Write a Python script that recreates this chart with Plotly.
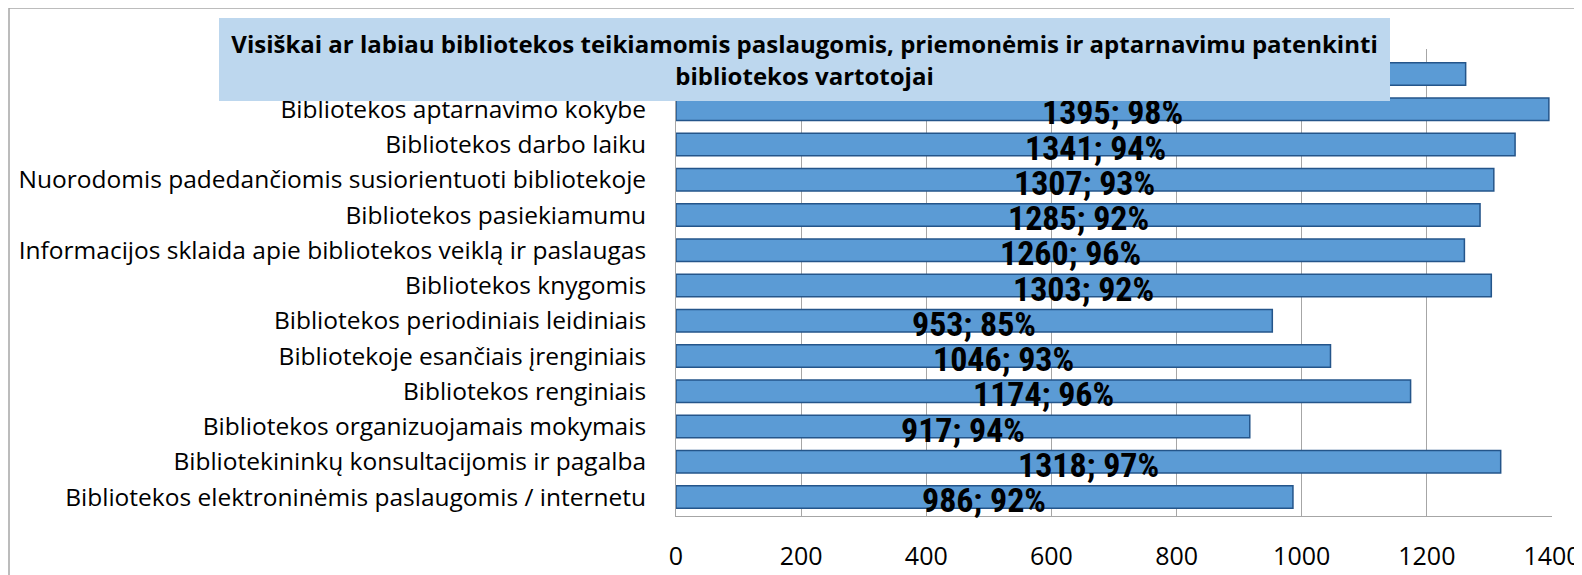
import plotly.graph_objects as go

categories = [
    "Bibliotekos patalpomis",
    "Bibliotekos aptarnavimo kokybe",
    "Bibliotekos darbo laiku",
    "Nuorodomis padedančiomis susiorientuoti bibliotekoje",
    "Bibliotekos pasiekiamumu",
    "Informacijos sklaida apie bibliotekos veiklą ir paslaugas",
    "Bibliotekos knygomis",
    "Bibliotekos periodiniais leidiniais",
    "Bibliotekoje esančiais įrenginiais",
    "Bibliotekos renginiais",
    "Bibliotekos organizuojamais mokymais",
    "Bibliotekininkų konsultacijomis ir pagalba",
    "Bibliotekos elektroninėmis paslaugomis / internetu",
]
counts = [1262, 1395, 1341, 1307, 1285, 1260, 1303, 953, 1046, 1174, 917, 1318, 986]
percents = [95, 98, 94, 93, 92, 96, 92, 85, 93, 96, 94, 97, 92]
x_ticks = [0, 200, 400, 600, 800, 1000, 1200, 1400]
title_text = ("Visiškai ar labiau bibliotekos teikiamomis paslaugomis, priemonėmis ir aptarnavimu patenkinti"
              "<br>bibliotekos vartotojai")

labels = [f"{c}; {p}%" for c, p in zip(counts, percents)]

# page body margin offset (browser default)
OFF = 8
W, H = 1582, 575
# desired plot area in screen pixels
SX0, SX1, SY0, SY1 = 676, 1552, 49, 516
L, T = SX0 - OFF, SY0 - OFF
R, B = W - (SX1 - OFF), H - (SY1 - OFF)
pw, ph = SX1 - SX0, SY1 - SY0

def px_x(v):
    return (v - SX0) / pw

def px_y(v):
    return (SY1 - v) / ph

fig = go.Figure()
fig.add_trace(go.Bar(
    y=categories, x=counts, orientation="h",
    marker=dict(color="#5B9BD5", line=dict(color="#24558A", width=1.5)),
    hoverinfo="x+y",
))
for c, cat, lab in zip(counts, categories, labels):
    fig.add_annotation(
        x=c / 2, y=cat, xref="x", yref="y", text=lab, showarrow=False,
        xanchor="center", yanchor="middle", yshift=-3,
        font=dict(family="Liberation Sans Narrow, Arial Narrow, Roboto Condensed, sans-serif",
                  size=34, color="black", weight="bold"),
    )

font_main = "Open Sans, Calibri, Carlito, sans-serif"

fig.update_layout(
    width=W, height=H,
    margin=dict(l=L, r=R, t=T, b=B),
    paper_bgcolor="white", plot_bgcolor="white",
    showlegend=False, bargap=0.36,
    font=dict(family=font_main, color="black"),
    xaxis=dict(range=[0, 1400], tickvals=x_ticks, showgrid=True, gridcolor="#A6A6A6",
               gridwidth=1, zeroline=False, showline=True, linecolor="#A6A6A6",
               tickfont=dict(size=25, family=font_main), ticks="", ticklabelstandoff=18,
               automargin=False, fixedrange=True),
    yaxis=dict(autorange="reversed", showgrid=False, showline=True, linecolor="#A6A6A6",
               tickfont=dict(size=24.5, family=font_main), ticks="", ticklabelstandoff=24,
               automargin=False, fixedrange=True),
    shapes=[
        dict(type="rect", xref="paper", yref="paper",
             x0=px_x(9), x1=px_x(1600), y0=px_y(600), y1=px_y(8),
             line=dict(color="#A6A6A6", width=1.5), fillcolor="rgba(0,0,0,0)", layer="below"),
        dict(type="rect", xref="paper", yref="paper",
             x0=px_x(219), x1=px_x(1390), y0=px_y(101), y1=px_y(18),
             line=dict(width=0), fillcolor="#BDD7EE", layer="above"),
    ],
)
# title box drawn last so it covers the top data label, as in the reference
fig.add_annotation(
    xref="paper", yref="paper", x=(px_x(219) + px_x(1390)) / 2,
    y=(px_y(101) + px_y(18)) / 2, xanchor="center", yanchor="middle",
    text="<b>" + title_text + "</b>", showarrow=False, align="center",
    width=1390 - 219, height=101 - 18, borderpad=0, borderwidth=0,
    bgcolor="#BDD7EE", valign="middle",
    font=dict(size=24, family=font_main, color="black"),
)

fig.write_html("out.html")
